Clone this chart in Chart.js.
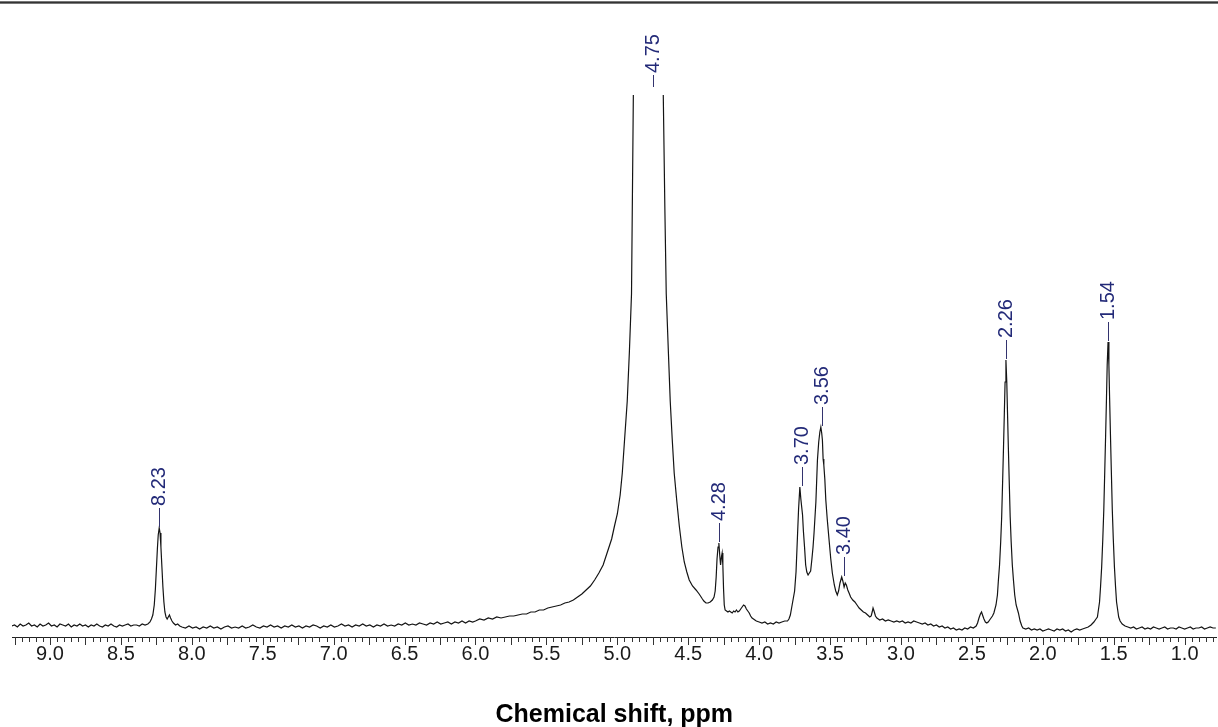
<!DOCTYPE html>
<html>
<head>
<meta charset="utf-8">
<title>1H NMR spectrum</title>
<script src="https://cdn.jsdelivr.net/npm/chart.js@4.4.1/dist/chart.umd.min.js"></script>
<style>
  html, body { margin: 0; padding: 0; background: #fff; }
  #wrap { position: relative; width: 1218px; height: 727px; }
</style>
</head>
<body>
<div id="wrap"><canvas id="nmr"></canvas></div>
<script>
// spectrum: [shift ppm, intensity]
var baseLeft = [
  [9.27,1],[9.25,2],[9.23,0],[9.21,3],[9.19,1],[9.17,2],[9.15,4],[9.13,1],[9.11,2],[9.09,0],
  [9.07,3],[9.05,1],[9.03,2],[9.01,4],[8.99,1],[8.97,2],[8.95,0],[8.93,3],[8.91,2],[8.89,1],
  [8.87,3],[8.85,0],[8.83,2],[8.81,1],[8.79,3],[8.77,1],[8.75,2],[8.73,0],[8.71,2],[8.69,1],
  [8.67,3],[8.65,1],[8.63,0],[8.61,2],[8.59,1],[8.57,3],[8.55,1],[8.53,0],[8.51,2],[8.49,1],
  [8.47,2],[8.45,3],[8.43,1],[8.41,2]
];
var peak823 = [
  [8.39,2],[8.37,1],[8.35,3],[8.33,2],[8.31,3],[8.295,5],[8.285,8],[8.275,12],[8.265,22],[8.257,38],
  [8.25,58],[8.243,78],[8.237,92],[8.23,99],[8.224,94],[8.218,80],[8.211,60],[8.204,40],[8.197,25],[8.19,15],
  [8.182,10],[8.174,8],[8.166,10],[8.158,12],[8.15,9],[8.14,6],[8.13,4],[8.115,2],[8.10,3],[8.085,1]
];
var baseMid = [
  [8.07,0],[8.045,-1],[8.02,1],[7.995,-1],[7.97,0],[7.945,-2],[7.92,0],[7.895,-1],[7.87,1],[7.845,-1],
  [7.82,0],[7.795,-2],[7.77,0],[7.745,1],[7.72,-1],[7.695,0],[7.67,-1],[7.645,1],[7.62,-1],[7.595,0],
  [7.57,2],[7.545,0],[7.52,-1],[7.495,1],[7.47,0],[7.445,2],[7.42,0],[7.395,1],[7.37,-1],[7.345,1],
  [7.32,0],[7.295,2],[7.27,0],[7.245,1],[7.22,-1],[7.195,1],[7.17,0],[7.145,2],[7.12,1],[7.095,-1],
  [7.07,1],[7.045,0],[7.02,2],[6.995,0],[6.97,1],[6.945,3],[6.92,1],[6.895,2],[6.87,0],[6.845,2],
  [6.82,1],[6.795,3],[6.77,1],[6.745,2],[6.72,0],[6.695,2],[6.67,1],[6.645,3],[6.62,1],[6.595,2],
  [6.57,1],[6.545,3],[6.52,2],[6.495,4],[6.47,2],[6.445,3],[6.42,2],[6.395,4],[6.37,3],[6.345,2],
  [6.32,4],[6.295,3],[6.27,5],[6.245,3],[6.22,4],[6.195,5],[6.17,3],[6.145,5],[6.12,4],[6.095,6],
  [6.07,4],[6.045,6],[6.02,5],[6.00,6]
];
var peak475 = [
  [5.97,8],[5.94,7],[5.91,9],[5.88,8],[5.85,10],[5.82,9],[5.79,10],[5.76,11],[5.73,11],[5.70,12],
  [5.67,13],[5.64,13],[5.61,15],[5.58,15],[5.55,17],[5.52,17],[5.49,19],[5.46,20],[5.43,21],[5.40,22],
  [5.37,24],[5.34,25],[5.31,27],[5.28,30],[5.25,33],[5.22,37],[5.19,41],[5.16,47],[5.13,54],[5.10,62],
  [5.07,75],[5.04,88],[5.02,101],[5.00,113],[4.98,132],[4.965,154],[4.95,185],[4.93,226],[4.915,275],[4.90,333],
  [4.887,532],[4.87,650],[4.84,760],[4.80,820],[4.77,840],[4.74,820],[4.71,760],[4.69,650],[4.676,532],[4.665,420],
  [4.655,333],[4.64,275],[4.627,226],[4.613,188],[4.599,154],[4.58,125],[4.563,101],[4.545,80],[4.528,65],[4.51,55],
  [4.493,47],[4.47,41],[4.445,37],[4.423,33],[4.40,28]
];
var peak428 = [
  [4.39,26],[4.375,24],[4.36,24],[4.345,25],[4.33,27],[4.318,30],[4.31,36],[4.303,50],[4.297,68],[4.29,80],
  [4.284,84],[4.278,72],[4.272,62],[4.266,70],[4.261,74],[4.256,62],[4.251,38],[4.246,22],[4.24,17],[4.23,16],
  [4.22,15],[4.21,16],[4.20,15],[4.19,14],[4.18,16],[4.17,15],[4.16,17],[4.15,15],[4.14,16],[4.13,18],
  [4.12,20],[4.11,22],[4.10,21],[4.09,18],[4.08,16],[4.07,14],[4.06,11],[4.05,9],[4.04,8],[4.03,7],
  [4.02,6],[4.00,5],[3.98,4],[3.96,5],[3.94,3],[3.92,4],[3.90,3],[3.88,5],[3.86,4],[3.84,5],[3.82,6]
];
var peak370to340 = [
  [3.80,6],[3.79,8],[3.78,12],[3.77,20],[3.76,28],[3.75,36],[3.74,55],[3.73,90],[3.722,118],[3.713,140],
  [3.706,128],[3.70,120],[3.694,112],[3.688,96],[3.68,80],[3.672,62],[3.664,55],[3.655,52],[3.646,54],[3.637,56],
  [3.628,68],[3.62,80],[3.613,94],[3.60,125],[3.589,167],[3.58,185],[3.572,195],[3.565,200],[3.559,194],[3.554,187],
  [3.549,168],[3.544,162],[3.537,148],[3.53,127],[3.52,108],[3.507,87],[3.495,68],[3.484,54],[3.47,42],[3.46,36],
  [3.449,32],[3.44,36],[3.43,44],[3.418,50],[3.41,46],[3.401,40],[3.393,44],[3.385,42],[3.375,37],[3.366,34],
  [3.355,30],[3.34,27],[3.325,25],[3.31,22],[3.295,19],[3.28,17],[3.265,15],[3.25,14],[3.235,12],[3.22,10],
  [3.21,11],[3.203,15],[3.197,19],[3.19,16],[3.18,11],[3.17,9],[3.16,8]
];
var baseRight = [
  [3.15,7],[3.13,8],[3.11,6],[3.09,7],[3.07,6],[3.05,5],[3.03,6],[3.01,5],[2.99,6],[2.97,4],
  [2.95,5],[2.93,4],[2.91,6],[2.89,5],[2.87,4],[2.85,3],[2.83,4],[2.81,2],[2.79,3],[2.77,1],
  [2.75,2],[2.73,0],[2.71,1],[2.69,-1],[2.67,0],[2.65,-2],[2.63,-1],[2.61,-3],[2.59,-2],[2.57,-3],
  [2.55,-1],[2.53,-2],[2.51,0],[2.49,-1],[2.47,1],[2.46,4],[2.45,9],[2.44,13],[2.432,15],[2.425,12],
  [2.415,8],[2.405,5],[2.395,4]
];
var peak226 = [
  [2.385,5],[2.375,7],[2.365,9],[2.355,11],[2.345,14],[2.33,22],[2.32,32],[2.313,47],[2.305,62],[2.297,85],
  [2.29,110],[2.283,147],[2.277,180],[2.271,215],[2.266,245],[2.26,267],[2.254,245],[2.249,215],[2.243,180],[2.237,147],
  [2.23,110],[2.223,85],[2.215,62],[2.207,47],[2.198,32],[2.188,22],[2.172,14],[2.16,6],[2.148,1]
];
var baseGap = [
  [2.14,-1],[2.12,-2],[2.10,-1],[2.08,-3],[2.06,-2],[2.04,-3],[2.02,-2],[2.00,-4],[1.98,-3],[1.96,-2],
  [1.94,-3],[1.92,-4],[1.90,-2],[1.88,-3],[1.86,-2],[1.84,-4],[1.82,-3],[1.80,-5],[1.78,-3],[1.76,-2],
  [1.74,-3],[1.72,-2],[1.70,-1],[1.68,0],[1.66,2],[1.64,5],[1.625,8]
];
var peak154 = [
  [1.615,10],[1.61,15],[1.60,25],[1.593,40],[1.585,60],[1.577,88],[1.57,117],[1.563,157],[1.557,192],[1.551,229],
  [1.546,262],[1.54,285],[1.534,262],[1.529,229],[1.523,192],[1.517,157],[1.51,117],[1.503,88],[1.495,60],[1.487,40],
  [1.48,25],[1.47,15],[1.465,10],[1.455,6],[1.44,3],[1.42,1]
];
var baseEnd = [
  [1.40,0],[1.38,-1],[1.36,0],[1.34,-2],[1.32,-1],[1.30,0],[1.28,-2],[1.26,-1],[1.24,-2],[1.22,0],
  [1.20,-1],[1.18,-2],[1.16,-1],[1.14,0],[1.12,-2],[1.10,-1],[1.08,-1],[1.06,-2],[1.04,0],[1.02,-1],
  [1.00,-2],[0.98,-1],[0.96,0],[0.94,-2],[0.92,-1],[0.90,-1],[0.88,0],[0.86,-2],[0.84,-1],[0.82,0],
  [0.80,-1],[0.78,-1]
];

// peak picking labels
var peakShifts = [8.23, 4.75, 4.28, 3.70, 3.56, 3.40, 2.26, 1.54];
var peakLabels = ['8.23', '4.75', '4.28', '3.70', '3.56', '3.40', '2.26', '1.54'];

// axis
var tickLabels = ['9.0','8.5','8.0','7.5','7.0','6.5','6.0','5.5','5.0','4.5','4.0','3.5','3.0','2.5','2.0','1.5','1.0'];
var axisTitle = 'Chemical shift, ppm';

var spectrum = [].concat(baseLeft, peak823, baseMid, peak475, peak428, peak370to340,
  baseRight, peak226, baseGap, peak154, baseEnd);

var FONT = "'Liberation Sans', Arial, Helvetica, sans-serif";
Chart.defaults.font.family = FONT;

// thin frame line along the top of the picture
var frameLine = {
  id: 'frameLine',
  afterDraw: function(chart) {
    var ctx = chart.ctx;
    ctx.save();
    ctx.fillStyle = '#777';
    ctx.fillRect(0, 1, chart.width, 3);
    ctx.fillStyle = '#333';
    ctx.fillRect(0, 2, chart.width, 1);
    ctx.restore();
  }
};

// ruler ticks: short every 0.05 ppm, longer every 0.25 ppm
var rulerTicks = {
  id: 'rulerTicks',
  afterDraw: function(chart) {
    var xs = chart.scales.x;
    var y0 = chart.chartArea.bottom;
    var ctx = chart.ctx;
    ctx.save();
    ctx.strokeStyle = '#333';
    ctx.lineWidth = 1;
    ctx.beginPath();
    xs.ticks.forEach(function(t) {
      var px = Math.round(xs.getPixelForValue(t.value)) + 0.5;
      var major = Math.round(t.value * 100) % 25 === 0;
      ctx.moveTo(px, y0);
      ctx.lineTo(px, y0 + (major ? 8 : 5));
    });
    ctx.stroke();
    ctx.restore();
  }
};

// vertical peak labels with a short leader line
var peakMarks = {
  id: 'peakMarks',
  afterDatasetsDraw: function(chart) {
    var xs = chart.scales.x, ys = chart.scales.y;
    var area = chart.chartArea;
    var ctx = chart.ctx;
    ctx.save();
    ctx.font = '20px ' + FONT;
    ctx.fillStyle = '#232a78';
    ctx.strokeStyle = '#33336e';
    ctx.lineWidth = 1;
    peakShifts.forEach(function(s, i) {
      var best = -Infinity;
      spectrum.forEach(function(p) {
        if (Math.abs(p[0] - s) <= 0.02 && p[1] > best) best = p[1];
      });
      var px = Math.round(xs.getPixelForValue(s)) + 0.5;
      var py = ys.getPixelForValue(best);
      var len = 20;
      if (py < area.top) { py = area.top - 7; len = 13; }
      ctx.beginPath();
      ctx.moveTo(px, py - 1);
      ctx.lineTo(px, py - len);
      ctx.stroke();
      ctx.save();
      ctx.translate(px, py - len - 2);
      ctx.rotate(-Math.PI / 2);
      ctx.textAlign = 'left';
      ctx.textBaseline = 'middle';
      ctx.fillText(peakLabels[i], 0, 0);
      ctx.restore();
    });
    ctx.restore();
  }
};

new Chart(document.getElementById('nmr').getContext('2d'), {
  type: 'line',
  data: {
    datasets: [{
      data: spectrum.map(function(p) { return { x: p[0], y: p[1] }; }),
      borderColor: '#141414',
      borderWidth: 1.2,
      pointRadius: 0,
      tension: 0,
      fill: false
    }]
  },
  options: {
    responsive: true,
    maintainAspectRatio: false,
    animation: false,
    events: [],
    layout: { padding: { left: 12, right: 0, top: 95, bottom: 0 }, autoPadding: false },
    plugins: {
      legend: { display: false },
      tooltip: { enabled: false }
    },
    scales: {
      x: {
        type: 'linear',
        reverse: true,
        min: 0.775,
        max: 9.268,
        afterBuildTicks: function(scale) {
          var t = [];
          for (var v = 925; v >= 80; v -= 5) t.push({ value: v / 100 });
          scale.ticks = t;
        },
        ticks: {
          autoSkip: false,
          maxRotation: 0,
          minRotation: 0,
          padding: 5,
          color: '#1a1a1a',
          font: { size: 20 },
          callback: function(value) {
            var s = Number(value).toFixed(1);
            return (Math.round(value * 100) % 50 === 0 && tickLabels.indexOf(s) >= 0) ? s : '';
          }
        },
        grid: { display: true, drawOnChartArea: false, drawTicks: false },
        border: { display: true, color: '#222', width: 1 },
        title: {
          display: true,
          text: axisTitle,
          color: '#000',
          font: { size: 25, weight: 'bold' },
          padding: { top: 29, bottom: -3 }
        }
      },
      y: {
        display: false,
        min: -10,
        max: 532
      }
    }
  },
  plugins: [frameLine, rulerTicks, peakMarks]
});
</script>
</body>
</html>
